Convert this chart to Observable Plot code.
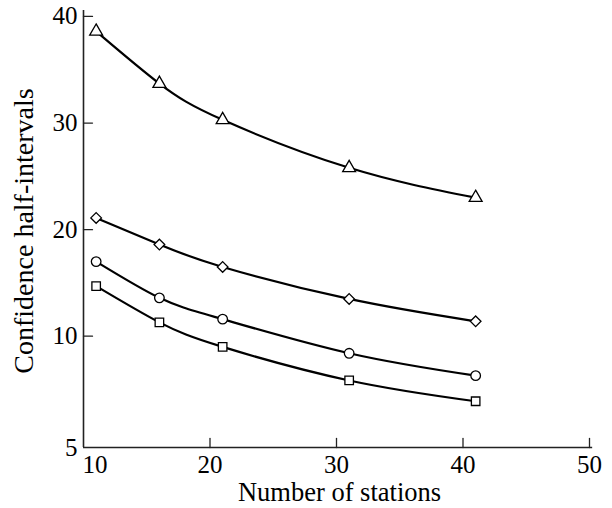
<!DOCTYPE html>
<html>
<head>
<meta charset="utf-8">
<script src="https://cdn.jsdelivr.net/npm/d3@7"></script>
<script src="https://cdn.jsdelivr.net/npm/@observablehq/plot@0.6"></script>
<style>
  html, body { margin: 0; padding: 0; background: #fff; }
  #chart { width: 612px; height: 508px; }
</style>
</head>
<body>
<div id="chart"></div>
<script>
// ---- data ----
const stations = [11, 16, 21, 31, 41];
const triangleSeries = [38.6, 33.7, 30.3, 25.8, 23.0];
const diamondSeries  = [21.1, 18.6, 16.5, 13.5, 11.4];
const circleSeries   = [17.0, 13.6, 11.6, 8.4, 6.3];
const squareSeries   = [14.7, 11.3, 9.0, 5.85, 3.9];

const xTickValues = [10, 20, 30, 40, 50];
const xTickLabels = ["10", "20", "30", "40", "50"];
const yMin = -0.44, yMax = 40.56;
const yTickValues = [yMin, 10, 20, 30, 40];
const yTickLabels = ["5", "10", "20", "30", "40"];

const xLabel = "Number of stations";
const yLabel = "Confidence half-intervals";

// ---- table ----
const seriesDefs = [
  {name: "triangle", values: triangleSeries},
  {name: "diamond2", values: diamondSeries},
  {name: "circle", values: circleSeries},
  {name: "square", values: squareSeries}
];
const rows = seriesDefs.flatMap(s => stations.map((x, i) => ({x, y: s.values[i], s: s.name})));

const tickShape = {draw(ctx, l) { ctx.moveTo(0, 0); ctx.lineTo(0, -l); }};
const xt = xTickValues.map((v, i) => ({v, t: xTickLabels[i]}));
const yt = yTickValues.map((v, i) => ({v, t: yTickLabels[i]}));

const chart = Plot.plot({
  width: 612,
  height: 508,
  marginLeft: 83,
  marginRight: 23,
  marginTop: 10,
  marginBottom: 61,
  style: {fontFamily: "Liberation Serif", fontSize: "25px", background: "#fff", color: "#000"},
  x: {domain: [10, 50], axis: null},
  y: {domain: [yMin, yMax], axis: null},
  symbol: {domain: seriesDefs.map(d => d.name), range: seriesDefs.map(d => d.name)},
  marks: [
    // axis lines
    Plot.ruleY([yMin], {x1: 10, x2: 50.25, stroke: "#222", strokeWidth: 1.6}),
    Plot.ruleX([10], {y1: yMin, y2: yMax, stroke: "#222", strokeWidth: 1.6}),
    // inward ticks
    Plot.vector(yt.slice(1), {x: 10, y: "v", length: 9, rotate: 90, anchor: "start", shape: tickShape, stroke: "#222", strokeWidth: 1.3}),
    Plot.vector(xt.slice(1), {x: "v", y: yMin, length: 9, rotate: 0, anchor: "start", shape: tickShape, stroke: "#222", strokeWidth: 1.3}),
    // tick labels
    Plot.text(yt, {x: 10, y: "v", text: "t", textAnchor: "end", dx: -6, lineAnchor: "middle", fill: "#000"}),
    Plot.text(xt.slice(0, 1), {x: "v", y: yMin, text: "t", textAnchor: "start", lineAnchor: "top", dy: 8, dx: -1, fill: "#000"}),
    Plot.text(xt.slice(1), {x: "v", y: yMin, text: "t", lineAnchor: "top", dy: 8, fill: "#000"}),
    // axis titles
    Plot.text([xLabel], {frameAnchor: "bottom", textAnchor: "middle", lineAnchor: "middle", dy: 45, dx: 3, fontSize: 26.5, fill: "#000"}),
    Plot.text([yLabel], {frameAnchor: "left", textAnchor: "middle", rotate: -90, lineAnchor: "middle", dx: -59, dy: 2, fontSize: 28, fill: "#000"}),
    // curves
    Plot.line(rows, {x: "x", y: "y", z: "s", curve: "natural", stroke: "#000", strokeWidth: 2.2}),
    // markers
    Plot.dot(rows, {x: "x", y: "y", symbol: "s", r: 4.8, fill: "#fff", stroke: "#000", strokeWidth: 1.3})
  ]
});
document.getElementById("chart").appendChild(chart);
</script>
</body>
</html>
